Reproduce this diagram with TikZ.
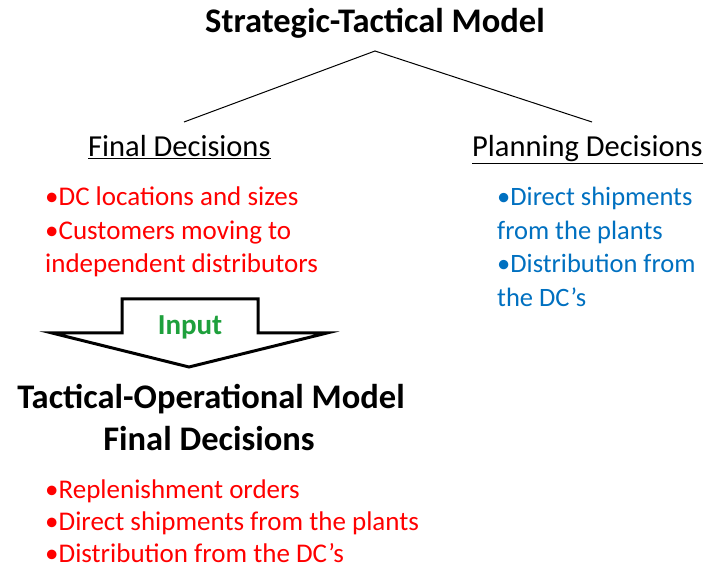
\documentclass[tikz,border=0pt]{standalone}
\usepackage{fontspec}
\setmainfont{Carlito}
\definecolor{redtxt}{RGB}{255,0,0}
\definecolor{bluetxt}{RGB}{0,112,192}
\definecolor{greentxt}{RGB}{30,160,60}
\begin{document}
\begin{tikzpicture}[x=1pt,y=-1pt,
  title/.style={font=\fontsize{34.5}{38}\selectfont\bfseries, anchor=base, inner sep=0pt},
  heading/.style={font=\fontsize{30.5}{34}\selectfont, anchor=base west, inner sep=0pt},
  redlist/.style={font=\fontsize{27}{33.5}\selectfont, text=redtxt, align=left, anchor=base west, inner sep=0pt},
  bluelist/.style={font=\fontsize{26.5}{33.5}\selectfont, text=bluetxt, align=left, anchor=base west, inner sep=0pt},
  branch/.style={line width=1pt},
  flowarrow/.style={line width=3pt, line join=miter, fill=white}]
\useasboundingbox (0,0) rectangle (713,569);

% top model and its two decision branches
\node[title] (stm) at (375,33) {Strategic-Tactical Model};
\coordinate (apex) at (375,51);
\coordinate (lend) at (184,122);
\coordinate (rend) at (592,122);
\draw[branch] (lend) -- (apex) -- (rend);

\node[heading] (final) at (88,157) {\underline{Final Decisions}};
\node[heading] (plan) at (472,157) {\underline{Planning Decisions}};

% the anchor sits on the last line of each list
\node[redlist] (finlist) at (45,273) {•DC locations and sizes\\•Customers moving to\\independent distributors};
\node[bluelist] (planlist) at (497,306.5) {•Direct shipments\\from the plants\\•Distribution from\\the DC’s};

% block arrow passing the decisions down (sharp mitred tips reach a bit past the points)
\draw[flowarrow] (122,299) -- (258,299) -- (258,333) -- (327,333) -- (189,367)
  -- (52,333) -- (122,333) -- cycle;
\node[font=\fontsize{29}{32}\selectfont\bfseries, text=greentxt, anchor=base, inner sep=0pt] (input) at (190,335) {Input};

% lower model
\node[title] (tom) at (211,409) {Tactical-Operational Model};
\node[title] (tomfd) at (209,451) {Final Decisions};
\node[redlist, font=\fontsize{27}{32}\selectfont] (oplist) at (45,562) {•Replenishment orders\\•Direct shipments from the plants\\•Distribution from the DC’s};
\end{tikzpicture}
\end{document}
